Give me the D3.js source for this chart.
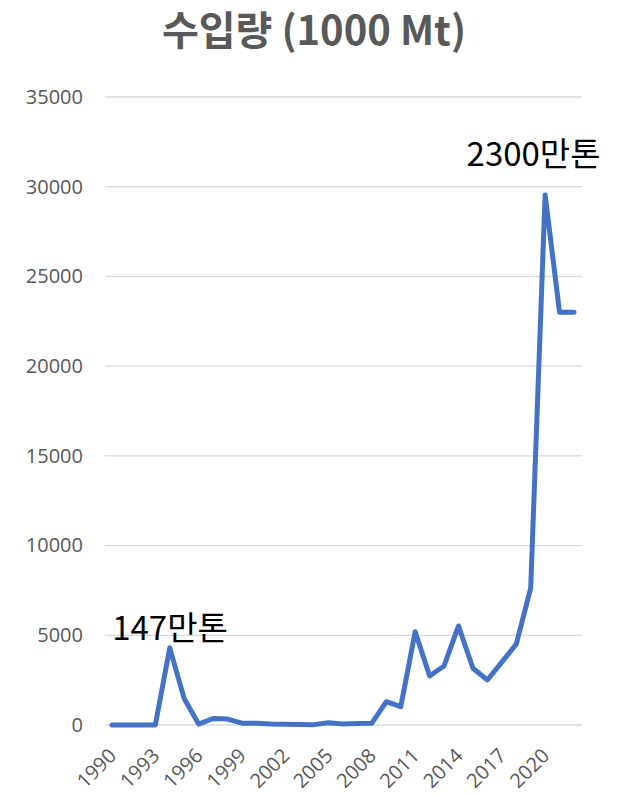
<!DOCTYPE html>
<html><head><meta charset="utf-8">
<script src="https://cdn.jsdelivr.net/npm/d3@7"></script>
<style>
body{margin:0;background:#fff;}
svg{display:block;}
</style></head>
<body>
<svg id="chart" width="625" height="795"></svg>
<script>
// Import volume, thousand metric tons, 1990–2022
const years = d3.range(1990, 2023);
const imports = [0, 0, 0, 0, 4300, 1470, 50, 360, 330, 100, 100, 50, 40, 30, 20, 120, 60, 80, 100,
  1300, 1020, 5200, 2730, 3290, 5520, 3160, 2510, 3500, 4510, 7630, 29540, 23000, 23000];
const yTicks = [0, 5000, 10000, 15000, 20000, 25000, 30000, 35000];
const xTickYears = years.filter(y => (y - 1990) % 3 === 0);
const title = "수입량 (1000 Mt)";
const noteYears = [1995, 2021];
const noteTexts = ["147만톤", "2300만톤"];

const svg = d3.select("#chart");
const x = d3.scaleLinear().domain([1990, 2022]).range([112, 574]);
const y = d3.scaleLinear().domain([0, 35000]).range([725, 97]);
const tickFont = "'Open Sans', 'Noto Sans', sans-serif";

// gridlines
svg.append("g").selectAll("line").data(yTicks).join("line")
  .attr("x1", 105).attr("x2", 582)
  .attr("y1", d => y(d)).attr("y2", d => y(d))
  .attr("stroke", "#d9d9d9").attr("stroke-width", 1.3);

// y axis labels
const yAxis = d3.axisLeft(y).tickValues(yTicks).tickSize(0).tickPadding(0).tickFormat(d3.format("d"));
svg.append("g").attr("transform", "translate(83,0)").call(yAxis)
  .call(g => g.select(".domain").remove())
  .selectAll("text")
  .attr("font-family", tickFont)
  .attr("font-size", 20).attr("fill", "#595959");

// x axis labels, rotated (each tick group already sits at x(year), 0)
const xAxis = d3.axisBottom(x).tickValues(xTickYears).tickSize(0).tickPadding(0).tickFormat(d3.format("d"));
svg.append("g").call(xAxis)
  .call(g => g.select(".domain").remove())
  .selectAll("text")
  .attr("font-family", tickFont)
  .attr("font-size", 20).attr("fill", "#595959")
  .attr("text-anchor", "end")
  .attr("x", 0).attr("y", 0).attr("dy", 0)
  .attr("transform", "translate(5,757) rotate(-45)");

// line
const line = d3.line().x((d, i) => x(years[i])).y(d => y(d));
svg.append("path").datum(imports)
  .attr("d", line)
  .attr("fill", "none")
  .attr("stroke", "#4472c4")
  .attr("stroke-width", 5)
  .attr("stroke-linejoin", "round")
  .attr("stroke-linecap", "round");

// title
svg.append("text").attr("x", 314).attr("y", 45)
  .attr("text-anchor", "middle")
  .attr("font-family", "'Noto Sans CJK KR', sans-serif")
  .attr("font-weight", "bold").attr("font-size", 40)
  .attr("fill", "#595959").text(title);

// callouts tied to their data points
const noteOffsets = [[-72, -59], [-93, -146]];
svg.append("g").selectAll("text").data(noteYears).join("text")
  .attr("x", (d, i) => x(d) + noteOffsets[i][0])
  .attr("y", (d, i) => y(imports[years.indexOf(d)]) + noteOffsets[i][1])
  .attr("font-family", "'Noto Sans CJK KR', sans-serif")
  .attr("font-size", 33).attr("fill", "#000")
  .text((d, i) => noteTexts[i]);
</script>
</body></html>
